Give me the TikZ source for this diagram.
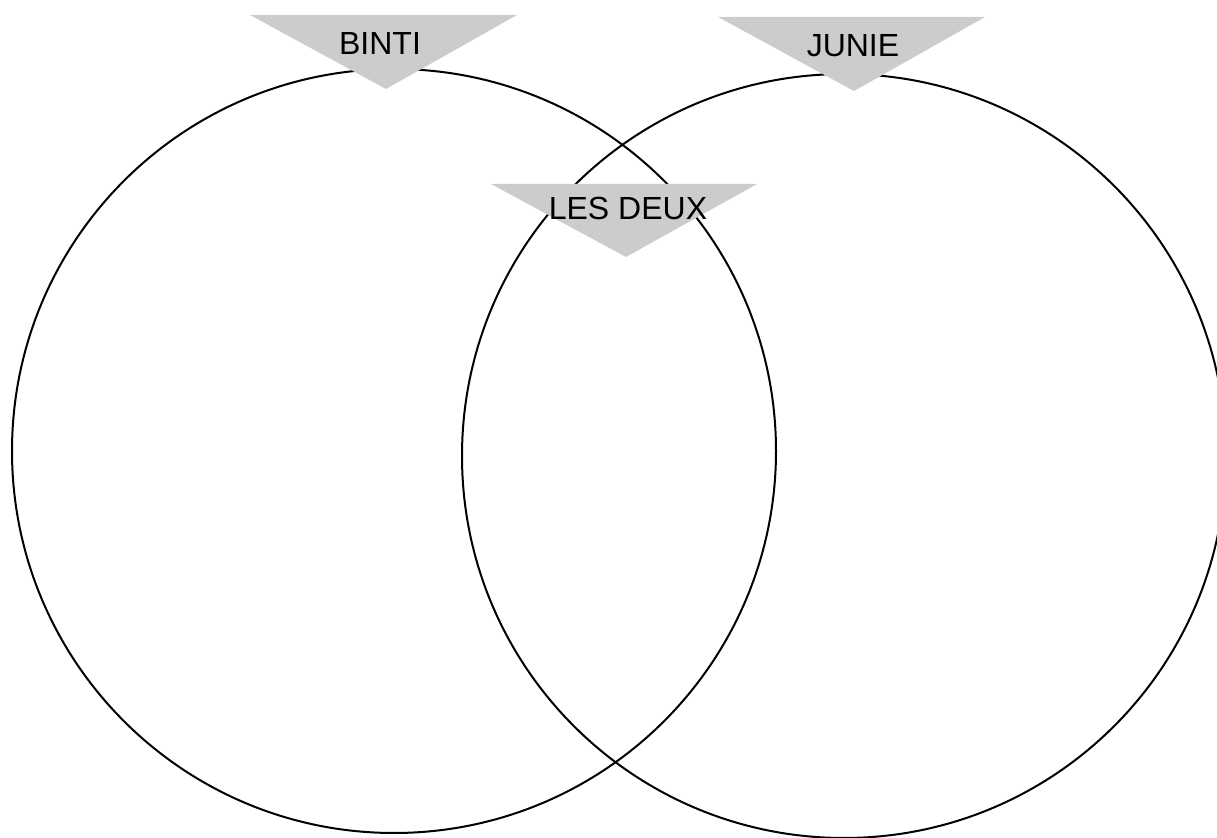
\documentclass[tikz,border=0pt]{standalone}
\usepackage{fontspec}
\setmainfont{Liberation Sans}
\usepackage{xcolor}
\definecolor{Silver}{HTML}{cccccc}
\colorlet{cFlag}{Silver}
\usetikzlibrary{positioning}
\tikzset{
	x = .5pt,
	y = -.5pt,
	line width = 1pt,
	font = \fontsize{16}{19}\selectfont,
	set/.style={
		draw=black,
		line width=1pt
	},
	flag/.style={
		fill=cFlag,
		draw=none
	},
	tag/.style={
		anchor=base,
		inner sep=0pt
	}
}

\begin{document}
\begin{tikzpicture}
        \useasboundingbox (0,0) rectangle (1217,838);
        \coordinate (cb) at (394,451);
        \coordinate (cj) at (844,456);

        \draw[set] (cb) circle (382);
        \draw[set] (cj) circle (382);

        \fill[flag] (250,15) -- (517,15) -- (386,89) -- cycle;
        \fill[flag] (718,17) -- (985,17) -- (854,91) -- cycle;
        \fill[flag] (491,184) -- (757,184) -- (626,257) -- cycle;

        \node (binti) [tag] at (380,55) {BINTI};
        \node (junie) [tag] at (853,57) {JUNIE};
        \node (deux) [tag] at (628,220) {LES DEUX};
    \end{tikzpicture}
\end{document}
